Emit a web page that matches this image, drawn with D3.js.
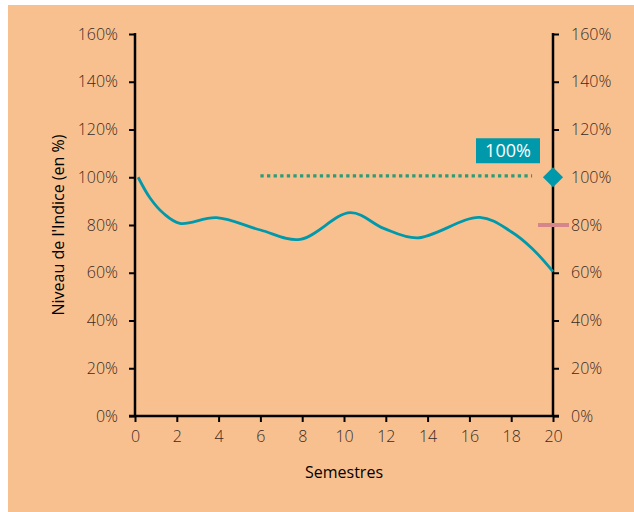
<!DOCTYPE html>
<html lang="fr">
  <head>
    <meta charset="utf-8">
    <title>Niveau de l'Indice</title>
    <script src="https://d3js.org/d3.v7.js"></script>
    <style>
      body { margin: 0; background: #fff; }
      .tick text { font-family: "Open Sans", sans-serif; font-weight: 300; font-size: 16px; fill: #3a2c24; }
      .title { font-family: "Open Sans", sans-serif; font-size: 16px; fill: #000; }
    </style>
  </head>
  <body>
    <script type="text/javascript">

      // data
      var semestres = [0.15, 0.72, 1.36, 2.15, 3.9, 6, 7.9, 10.3, 11.9, 13.5, 16.5, 18, 19, 20];
      var niveau    = [100, 91.3, 84.9, 80.7, 83.1, 77.9, 74.0, 85.2, 78.6, 74.6, 83.2, 77.2, 70.2, 60.5];
      var xTicks = [0, 2, 4, 6, 8, 10, 12, 14, 16, 18, 20];
      var yTicks = [0, 20, 40, 60, 80, 100, 120, 140, 160];
      var cible = {from: 6, to: 19, value: 100.6};   // dotted line
      var marqueur = {x: 20, value: 100, label: "100%"};
      var seuil = {x: 20, value: 80};

      var w = 634, h = 512;
      var margin = {top: 34, right: 81, bottom: 96, left: 135};

      var xScale = d3.scaleLinear().domain([0, 20]).range([margin.left, w - margin.right]);
      var yScale = d3.scaleLinear().domain([0, 160]).range([h - margin.bottom, margin.top]);

      var svg = d3.select("body").append("svg")
        .attr("width", w)
        .attr("height", h);

      // background panel
      svg.append("rect")
        .attr("x", 8).attr("y", 5)
        .attr("width", w - 8).attr("height", h - 5)
        .attr("fill", "#f9c08f");

      var yLeft = d3.axisLeft(yScale).tickValues(yTicks).tickSize(6).tickPadding(12)
        .tickFormat(d => d + "%");
      var yRight = d3.axisRight(yScale).tickValues(yTicks).tickSize(6).tickPadding(12)
        .tickFormat(d => d + "%");
      var xAxis = d3.axisBottom(xScale).tickValues(xTicks).tickSize(6).tickPadding(9);

      function styleAxis(g) {
        g.select(".domain").remove();
        g.selectAll(".tick line").attr("stroke", "#000").attr("stroke-width", 2);
      }

      svg.append("g")
        .attr("transform", `translate(${margin.left},0)`)
        .call(yLeft).call(styleAxis)
        .selectAll(".tick text").attr("x", -17);

      svg.append("g")
        .attr("transform", `translate(${w - margin.right},0)`)
        .call(yRight).call(styleAxis);

      svg.append("g")
        .attr("transform", `translate(0,${h - margin.bottom})`)
        .call(xAxis).call(styleAxis);

      // axis lines
      svg.append("line")
        .attr("x1", xScale(0)).attr("x2", xScale(0))
        .attr("y1", yScale(160) - 1).attr("y2", yScale(0))
        .attr("stroke", "#000").attr("stroke-width", 2.5);
      svg.append("line")
        .attr("x1", xScale(20)).attr("x2", xScale(20))
        .attr("y1", yScale(160) - 1).attr("y2", yScale(0))
        .attr("stroke", "#000").attr("stroke-width", 2.5);
      svg.append("line")
        .attr("x1", xScale(0) - 6).attr("x2", xScale(20) + 6)
        .attr("y1", yScale(0)).attr("y2", yScale(0))
        .attr("stroke", "#000").attr("stroke-width", 2.5);

      // titles
      svg.append("text")
        .attr("class", "title")
        .attr("text-anchor", "middle")
        .attr("x", (xScale(0) + xScale(20)) / 2)
        .attr("y", 478)
        .text("Semestres");

      svg.append("text")
        .attr("class", "title")
        .attr("text-anchor", "middle")
        .attr("transform", `translate(64,${(yScale(0) + yScale(160)) / 2}) rotate(-90)`)
        .text("Niveau de l'Indice (en %)");

      // dotted line
      svg.append("line")
        .attr("x1", xScale(cible.from)).attr("x2", xScale(cible.to))
        .attr("y1", yScale(cible.value)).attr("y2", yScale(cible.value))
        .attr("stroke", "#2e9a78")
        .attr("stroke-width", 3.3)
        .attr("stroke-dasharray", "3.3,3.3");

      // curve
      var line = d3.line()
        .x((d, i) => xScale(semestres[i]))
        .y(d => yScale(d))
        .curve(d3.curveCatmullRom.alpha(0.5));

      svg.append("path")
        .datum(niveau)
        .attr("d", line)
        .attr("fill", "none")
        .attr("stroke", "#0099ab")
        .attr("stroke-width", 2.8);

      // pink marker at 80%
      svg.append("line")
        .attr("x1", xScale(seuil.x) - 15).attr("x2", xScale(seuil.x) + 16)
        .attr("y1", yScale(seuil.value)).attr("y2", yScale(seuil.value))
        .attr("stroke", "#d4868a")
        .attr("stroke-width", 4);

      // diamond
      svg.append("path")
        .attr("d", d3.symbol(d3.symbolDiamond2, 260)())
        .attr("transform", `translate(${xScale(marqueur.x)},${yScale(marqueur.value)})`)
        .attr("fill", "#0099ab");

      // label box
      var bx = xScale(marqueur.x) - 77, by = yScale(marqueur.value) - 39;
      svg.append("rect")
        .attr("x", bx).attr("y", by)
        .attr("width", 64).attr("height", 25)
        .attr("fill", "#0099ab");
      svg.append("text")
        .attr("x", bx + 32).attr("y", by + 19)
        .attr("text-anchor", "middle")
        .attr("font-family", "Open Sans, sans-serif")
        .attr("font-size", "18px")
        .attr("fill", "#fff")
        .text(marqueur.label);

    </script>
  </body>
</html>
